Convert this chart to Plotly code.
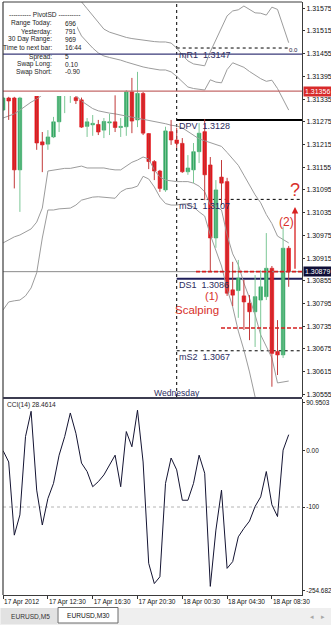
import plotly.graph_objects as go

# ---------------- data (EURUSD M30) ----------------
bars = list(range(52))
open_ = [1.31306, 1.31338, 1.31338, 1.31148, 1.31345, 1.31395, 1.31345, 1.31222, 1.31216, 1.31235,
         1.31275, 1.31350, 1.31355, 1.31339, 1.31333, 1.31263, 1.31267, 1.31268, 1.31253, 1.31272,
         1.31275, 1.31260, 1.31262, 1.31354, 1.31280, 1.31350, 1.31244, 1.31170, 1.31145, 1.31095,
         1.31249, 1.31227, 1.31218, 1.31143, 1.31148, 1.31196, 1.31249, 1.31161, 1.30968, 1.31129,
         1.31117, 1.30831, 1.30829, 1.30815, 1.30796, 1.30773, 1.30804, 1.30813, 1.30888, 1.30668,
         1.30659, 1.30941]
high = [1.31341, 1.31341, 1.31341, 1.31341, 1.31420, 1.31440, 1.31346, 1.31248, 1.31253, 1.31288,
        1.31350, 1.31400, 1.31410, 1.31343, 1.31339, 1.31285, 1.31293, 1.31280, 1.31285, 1.31296,
        1.31345, 1.31285, 1.31359, 1.31391, 1.31407, 1.31354, 1.31245, 1.31174, 1.31148, 1.31262,
        1.31280, 1.31259, 1.31232, 1.31187, 1.31219, 1.31272, 1.31282, 1.31182, 1.31121, 1.31174,
        1.31127, 1.30905, 1.30910, 1.30857, 1.30817, 1.30870, 1.30883, 1.30981, 1.30894, 1.30751,
        1.30998, 1.30947]
low = [1.31304, 1.31280, 1.31099, 1.31037, 1.31344, 1.31360, 1.31201, 1.31142, 1.31201, 1.31232,
       1.31248, 1.31298, 1.31325, 1.31322, 1.31259, 1.31235, 1.31238, 1.31240, 1.31232, 1.31240,
       1.31248, 1.31235, 1.31238, 1.31245, 1.31261, 1.31240, 1.31150, 1.31121, 1.31090, 1.31090,
       1.31214, 1.31206, 1.31140, 1.31135, 1.31113, 1.31166, 1.31068, 1.30879, 1.30942, 1.31055,
       1.30815, 1.30788, 1.30757, 1.30725, 1.30698, 1.30680, 1.30672, 1.30804, 1.30575, 1.30606,
       1.30651, 1.30839]
close = [1.31338, 1.31330, 1.31148, 1.31338, 1.31395, 1.31365, 1.31219, 1.31214, 1.31235, 1.31275,
         1.31345, 1.31380, 1.31390, 1.31331, 1.31261, 1.31275, 1.31271, 1.31248, 1.31276, 1.31275,
         1.31260, 1.31263, 1.31354, 1.31277, 1.31350, 1.31245, 1.31170, 1.31145, 1.31099, 1.31251,
         1.31227, 1.31218, 1.31143, 1.31153, 1.31196, 1.31245, 1.31135, 1.30968, 1.31095, 1.31113,
         1.30822, 1.30817, 1.30862, 1.30799, 1.30773, 1.30813, 1.30839, 1.30888, 1.30663, 1.30659,
         1.30941, 1.30879]

bb_upper3 = [1.31771, 1.31755, 1.31742, 1.31734, 1.31755, 1.31761, 1.31790, 1.31716, 1.31660, 1.31666,
             1.31673, 1.31666, 1.31660, 1.31631, 1.31592, 1.31574, 1.31557, 1.31539, 1.31520, 1.31512,
             1.31507, 1.31502, 1.31498, 1.31495, 1.31493, 1.31490, 1.31489, 1.31487, 1.31486, 1.31486,
             1.31483, 1.31470, 1.31452, 1.31436, 1.31428, 1.31425, 1.31423, 1.31460, 1.31491, 1.31523,
             1.31555, 1.31568, 1.31571, 1.31581, 1.31573, 1.31563, 1.31562, 1.31557, 1.31578, 1.31572,
             1.31528, 1.31484]
bb_upper2 = [1.31594, 1.31602, 1.31608, 1.31621, 1.31650, 1.31655, 1.31655, 1.31637, 1.31557, 1.31565,
             1.31568, 1.31560, 1.31555, 1.31531, 1.31502, 1.31486, 1.31470, 1.31457, 1.31449, 1.31445,
             1.31442, 1.31438, 1.31433, 1.31428, 1.31423, 1.31420, 1.31417, 1.31415, 1.31412, 1.31412,
             1.31407, 1.31395, 1.31380, 1.31367, 1.31363, 1.31361, 1.31359, 1.31386, 1.31380, 1.31378,
             1.31413, 1.31431, 1.31424, 1.31419, 1.31408, 1.31398, 1.31389, 1.31382, 1.31385, 1.31363,
             1.31333, 1.31306]
bb_mid = [1.31285, 1.31290, 1.31296, 1.31306, 1.31317, 1.31327, 1.31335, 1.31346, 1.31354, 1.31359,
          1.31360, 1.31359, 1.31354, 1.31345, 1.31330, 1.31319, 1.31310, 1.31304, 1.31300, 1.31298,
          1.31296, 1.31293, 1.31291, 1.31289, 1.31286, 1.31282, 1.31279, 1.31276, 1.31273, 1.31270,
          1.31266, 1.31264, 1.31259, 1.31249, 1.31239, 1.31230, 1.31225, 1.31220, 1.31215, 1.31210,
          1.31194, 1.31178, 1.31160, 1.31134, 1.31108, 1.31082, 1.31061, 1.31030, 1.31006, 1.30973,
          1.30964, 1.30955]
bb_lower2 = [1.30955, 1.30963, 1.30971, 1.30976, 1.30984, 1.30992, 1.31010, 1.31047, 1.31145, 1.31148,
             1.31150, 1.31152, 1.31152, 1.31156, 1.31158, 1.31153, 1.31153, 1.31154, 1.31153, 1.31150,
             1.31148, 1.31148, 1.31158, 1.31168, 1.31174, 1.31182, 1.31177, 1.31148, 1.31129, 1.31121,
             1.31119, 1.31117, 1.31117, 1.31117, 1.31113, 1.31105, 1.31090, 1.31055, 1.31050, 1.31042,
             1.30976, 1.30926, 1.30897, 1.30849, 1.30809, 1.30765, 1.30712, 1.30683, 1.30651, 1.30585,
             1.30588, 1.30590]
bb_lower3 = [1.30778, 1.30799, 1.30802, 1.30804, 1.30815, 1.30836, 1.30876, 1.30968, 1.31042, 1.31042,
             1.31045, 1.31046, 1.31047, 1.31055, 1.31068, 1.31072, 1.31076, 1.31077, 1.31075, 1.31074,
             1.31073, 1.31090, 1.31098, 1.31100, 1.31105, 1.31131, 1.31124, 1.31103, 1.31076, 1.31059,
             1.31055, 1.31055, 1.31058, 1.31058, 1.31050, 1.31037, 1.31026, 1.30976, 1.30936, 1.30894,
             1.30833, 1.30786, 1.30722, 1.30672, 1.30614, 1.30548, 1.30500, 1.30474, 1.30455, 1.30434,
             1.30429, 1.30426]

cci = [0, -20, -150, -114, 25, 70, -70, -132, -85, -58,
       -8, 25, 67, 31, -22, -37, -64, -55, -43, -25,
       -8, -64, 34, 7, 72, -20, -200, -236, -224, -58,
       -13, -34, -88, -88, -58, -8, -40, -241, -141, -70,
       -209, -197, -153, -138, -125, -99, -82, -37, -96, -117,
       1, 28.4614]
cci_scale_max = 90.9503
cci_scale_min = -254.682
cci_level = -100

price_ticks = [1.31575, 1.31515, 1.31455, 1.31395, 1.31335, 1.31275, 1.31215, 1.31155, 1.31095,
               1.31035, 1.30975, 1.30915, 1.30855, 1.30795, 1.30735, 1.30675, 1.30615, 1.30555]
date_tick_bars = [0, 8, 16, 24, 32, 40, 48]
date_tick_labels = ["17 Apr 2012", "17 Apr 12:30", "17 Apr 16:30", "17 Apr 20:30",
                    "18 Apr 00:30", "18 Apr 04:30", "18 Apr 08:30"]

pivot_names = ["mR1", "DPV", "mS1", "DS1", "mS2"]
pivot_values = [1.3147, 1.3128, 1.3107, 1.3086, 1.3067]
fibo_zero = 1.31454
red_level = 1.31356
bid = 1.30879
scalp_levels = [1.30879, 1.3073]
day_start_bar = 31

info_labels = ["Range Today:", "Yesterday:", "30 Day Range:", "Time to next bar:",
               "Spread:", "Swap Long:", "Swap Short:"]
info_values = ["696", "791", "969", "16:44", "5", "0.10", "-0.90"]

# ---------------- geometry ----------------
W, H = 331, 625
ML, MR, MT, MB = 3, 29, 2, 30
PW, PH = W - ML - MR, H - MT - MB


def px_x(px):
    return (px - ML) / PW


def px_y(py):
    return (H - MB - py) / PH


X0, DX = 3.1, 5.6            # pixel of bar 0, pixel spacing per bar
xr = [(ML - X0) / DX, (W - MR - X0) / DX]


def bx(px):
    return (px - X0) / DX


FONT = "Liberation Sans, Arial, sans-serif"
GREEN, RED = "#35a865", "#e3161c"
GREEN_W, RED_W = "#7cc796", "#c23a3a"
BAND = "#9c9c9c"
NAVY = "#2b2b5e"

fig = go.Figure()

# Bollinger-type bands
for band in [bb_upper3, bb_upper2, bb_mid, bb_lower2, bb_lower3]:
    fig.add_trace(go.Scatter(x=bars, y=band, mode="lines",
                             line=dict(color=BAND, width=1), xaxis="x", yaxis="y"))

# candles: wicks
for is_up, wc in [(True, GREEN_W), (False, RED_W)]:
    wx, wy = [], []
    for i in bars:
        if (close[i] >= open_[i]) == is_up:
            wx += [i, i, None]
            wy += [low[i], high[i], None]
    fig.add_trace(go.Scatter(x=wx, y=wy, mode="lines", line=dict(color=wc, width=1),
                             xaxis="x", yaxis="y", connectgaps=False))

# candles: bodies
for is_up, col in [(True, GREEN), (False, RED)]:
    idx = [i for i in bars if (close[i] >= open_[i]) == is_up]
    fig.add_trace(go.Bar(x=idx,
                         y=[abs(close[i] - open_[i]) for i in idx],
                         base=[min(open_[i], close[i]) for i in idx],
                         width=0.64, marker=dict(color=col, line=dict(color=col, width=0.6)),
                         xaxis="x", yaxis="y"))

# CCI
fig.add_trace(go.Scatter(x=bars, y=cci, mode="lines", line=dict(color="#141432", width=1),
                         xaxis="x2", yaxis="y2"))

shapes = []
# tab bar (drawn beneath everything else)
shapes.append(dict(type="rect", xref="paper", yref="paper", x0=px_x(0), x1=px_x(331),
                   y0=px_y(625), y1=px_y(608), fillcolor="#efefef", line=dict(width=0), layer="below"))
shapes.append(dict(type="rect", xref="paper", yref="paper", x0=px_x(1), x1=px_x(57),
                   y0=px_y(624), y1=px_y(608), fillcolor="#e2e2e2", line=dict(width=0), layer="below"))
shapes.append(dict(type="rect", xref="paper", yref="paper", x0=px_x(58), x1=px_x(118),
                   y0=px_y(623), y1=px_y(607.5), fillcolor="#ffffff", line=dict(color="#6a6a6a", width=1),
                   layer="below"))
# period separator
shapes.append(dict(type="line", xref="x", yref="paper", x0=day_start_bar, x1=day_start_bar,
                   y0=px_y(397), y1=1, line=dict(color="#000000", width=1, dash="dot"), layer="below"))
# pivot lines
pivot_styles = [dict(color="#000000", width=1, dash="dot"),
                dict(color="#000000", width=2),
                dict(color="#000000", width=1, dash="dot"),
                dict(color="#1e1e5a", width=2),
                dict(color="#000000", width=1, dash="dot")]
pivot_ends = [bx(288), xr[1], xr[1], xr[1], xr[1]]
for v, st, x1 in zip(pivot_values, pivot_styles, pivot_ends):
    shapes.append(dict(type="line", xref="x", yref="y", x0=day_start_bar, x1=x1, y0=v, y1=v,
                       line=st, layer="below"))
# CCI -100 level
shapes.append(dict(type="line", xref="paper", yref="y2", x0=0, x1=1, y0=cci_level, y1=cci_level,
                   line=dict(color="#b4b4b4", width=1, dash="dot"), layer="below"))
# info panel background (covers the chart beneath)
shapes.append(dict(type="rect", xref="paper", yref="paper", x0=0, x1=px_x(77), y0=px_y(96), y1=1,
                   fillcolor="white", line=dict(width=0), layer="above"))
# full width lines
shapes.append(dict(type="line", xref="paper", yref="y", x0=0, x1=1, y0=fibo_zero, y1=fibo_zero,
                   line=dict(color="#3a3a78", width=1.3), layer="above"))
shapes.append(dict(type="line", xref="paper", yref="y", x0=0, x1=1, y0=red_level, y1=red_level,
                   line=dict(color="#c46a6a", width=1.4), layer="above"))
shapes.append(dict(type="line", xref="paper", yref="y", x0=0, x1=1, y0=bid, y1=bid,
                   line=dict(color="#8a8a8a", width=1), layer="above"))
# user drawn red dashed lines
for lv, xs in zip(scalp_levels, [bx(196), bx(221)]):
    shapes.append(dict(type="line", xref="x", yref="y", x0=xs, x1=xr[1], y0=lv, y1=lv,
                       line=dict(color="#d42020", width=1.6, dash="4px,2px"), layer="above"))
# frame + panel separator
FR = "#3c3c3c"
shapes.append(dict(type="line", xref="paper", yref="paper", x0=0, x1=0, y0=0, y1=1,
                   line=dict(color=FR, width=1.2), layer="above"))
shapes.append(dict(type="line", xref="paper", yref="paper", x0=0, x1=1, y0=1, y1=1,
                   line=dict(color=FR, width=1), layer="above"))
shapes.append(dict(type="line", xref="paper", yref="paper", x0=0, x1=1, y0=px_y(398), y1=px_y(398),
                   line=dict(color="#3c3c50", width=2), layer="above"))

ann = []
# info panel text
ann.append(dict(xref="paper", yref="paper", x=px_x(44), y=px_y(15), text="---------- PivotSD ----------",
                showarrow=False, xanchor="center", yanchor="middle", font=dict(size=6.6, color="#1c1c1c", family=FONT)))
info_y = [23.3, 31.5, 39.4, 47.6, 56.7, 64.4, 71.9]
for lab, val, yy in zip(info_labels, info_values, info_y):
    ann.append(dict(xref="paper", yref="paper", x=px_x(54), y=px_y(yy), text=lab, showarrow=False,
                    xanchor="right", yanchor="middle", font=dict(size=6.6, color="#1c1c1c", family=FONT)))
    ann.append(dict(xref="paper", yref="paper", x=px_x(63), y=px_y(yy), text=val, showarrow=False,
                    xanchor="left", yanchor="middle", font=dict(size=6.6, color="#1c1c1c", family=FONT)))
# fibo 0.0 label
ann.append(dict(xref="x", yref="y", x=bx(300), y=fibo_zero, yshift=4, text="0.0", showarrow=False,
                xanchor="right", yanchor="middle", font=dict(size=6, color="#202040", family=FONT)))
# pivot labels
for nm, v in zip(pivot_names, pivot_values):
    ann.append(dict(xref="x", yref="y", x=day_start_bar, xshift=1, y=v, yshift=-0.5,
                    text=f"{nm}  {v:.4f}", showarrow=False, xanchor="left", yanchor="top", borderpad=0,
                    font=dict(size=9, color=NAVY, family=FONT)))
# day label
ann.append(dict(xref="x", yref="paper", x=day_start_bar, y=px_y(393), text="Wednesday", showarrow=False,
                xanchor="center", yanchor="middle", font=dict(size=8.6, color=NAVY, family=FONT)))
# price labels on the axis
ann.append(dict(xref="paper", yref="y", x=1, xshift=1, y=red_level, text=f"{red_level:.5f}", showarrow=False,
                xanchor="left", yanchor="middle", bgcolor="#d82a2a", borderpad=1,
                font=dict(size=7, color="white", family=FONT)))
ann.append(dict(xref="paper", yref="y", x=1, xshift=1, y=bid, text=f"{bid:.5f}", showarrow=False,
                xanchor="left", yanchor="middle", bgcolor="#0e0e36", borderpad=1,
                font=dict(size=7, color="white", family=FONT)))
# user annotations
RT = "#d8302a"
ann.append(dict(xref="x", yref="y", x=bx(295), y=1.31095, text="?", showarrow=False,
                xanchor="center", yanchor="middle", font=dict(size=18, color=RT, family=FONT)))
ann.append(dict(xref="x", yref="y", x=bx(286), y=1.31011, text="(2)", showarrow=False,
                xanchor="center", yanchor="middle", font=dict(size=12, color=RT, family=FONT)))
ann.append(dict(xref="x", yref="y", x=bx(211.5), y=1.30816, text="(1)", showarrow=False, borderpad=0,
                xanchor="center", yanchor="middle", font=dict(size=11, color=RT, family=FONT)))
ann.append(dict(xref="x", yref="y", x=bx(196.5), y=1.30777, text="Scalping", showarrow=False, borderpad=0,
                xanchor="center", yanchor="middle", font=dict(size=11.5, color=RT, family=FONT)))
ann.append(dict(xref="x", yref="y", axref="x", ayref="y", x=bx(295), y=1.31050, ax=bx(295), ay=1.30883,
                text="", showarrow=True, arrowhead=2, arrowsize=1, arrowwidth=1.3, arrowcolor="#d82020"))
# CCI caption
ann.append(dict(xref="paper", yref="paper", x=px_x(5), y=px_y(405), text=f"CCI(14) {cci[-1]:.4f}",
                showarrow=False, xanchor="left", yanchor="middle", font=dict(size=6.6, color="#1c1c1c", family=FONT)))
# tabs
ann.append(dict(xref="paper", yref="paper", x=px_x(30), y=px_y(616.5), text="EURUSD,M5", showarrow=False,
                xanchor="center", yanchor="middle", font=dict(size=6.6, color="#333333", family=FONT)))
ann.append(dict(xref="paper", yref="paper", x=px_x(88), y=px_y(615.5), text="EURUSD,M30", showarrow=False,
                xanchor="center", yanchor="middle", font=dict(size=6.6, color="#111111", family=FONT)))
ann.append(dict(xref="paper", yref="paper", x=px_x(312), y=px_y(617), text="◂", showarrow=False,
                xanchor="center", yanchor="middle", font=dict(size=7, color="#a8a8a8", family="DejaVu Sans")))
ann.append(dict(xref="paper", yref="paper", x=px_x(323), y=px_y(617), text="▸", showarrow=False,
                xanchor="center", yanchor="middle", font=dict(size=7, color="#a8a8a8", family="DejaVu Sans")))

# CCI ticks placed as in the terminal (extreme labels tucked inside the panel)
cci_px = 0.563
cci_tickvals = [cci_scale_max - 6.2, 0, -100, cci_scale_min + 5.5]
cci_ticktext = [f"{cci_scale_max:.4f}", "0.00", "-100", f"{cci_scale_min:.3f}"]
cci_range = [-(595 - 450.7) / cci_px, (450.7 - 399) / cci_px]

main_range = [1.315969 - 0.000026425 * 397, 1.315969 - 0.000026425 * 2]

fig.update_layout(
    width=W, height=H,
    margin=dict(l=ML, r=MR, t=MT, b=MB, autoexpand=False),
    paper_bgcolor="white", plot_bgcolor="white",
    showlegend=False, hovermode=False, barmode="overlay",
    shapes=shapes, annotations=ann,
    xaxis=dict(domain=[0, 1], range=xr, anchor="y", showticklabels=False, showgrid=False,
               zeroline=False, showline=False, ticks="", automargin=False),
    xaxis2=dict(domain=[0, 1], range=xr, matches="x", anchor="y2", tickmode="array",
                tickvals=date_tick_bars, ticktext=date_tick_labels, ticks="outside", ticklen=3,
                tickcolor="#333333", ticklabelposition="outside right", tickangle=0,
                tickfont=dict(size=6.5, color="#111111", family=FONT), showgrid=False, zeroline=False,
                showline=True, linecolor=FR, linewidth=1, automargin=False),
    yaxis=dict(domain=[px_y(397), 1], range=main_range, side="right", anchor="x", tickmode="array",
               tickvals=price_ticks, ticktext=[f"{t:.5f}" for t in price_ticks], ticks="outside",
               ticklen=2, tickcolor="#333333", tickfont=dict(size=7, color="#111111", family=FONT),
               showgrid=False, zeroline=False, showline=True, linecolor=FR, linewidth=1, automargin=False),
    yaxis2=dict(domain=[0, px_y(399)], range=cci_range, side="right", anchor="x2", tickmode="array",
                tickvals=cci_tickvals, ticktext=cci_ticktext, ticks="outside", ticklen=2,
                tickcolor="#333333", tickfont=dict(size=6.4, color="#111111", family=FONT),
                showgrid=False, zeroline=False, showline=True, linecolor=FR, linewidth=1, automargin=False),
)

fig.write_html("out.html", config={"displayModeBar": False})
